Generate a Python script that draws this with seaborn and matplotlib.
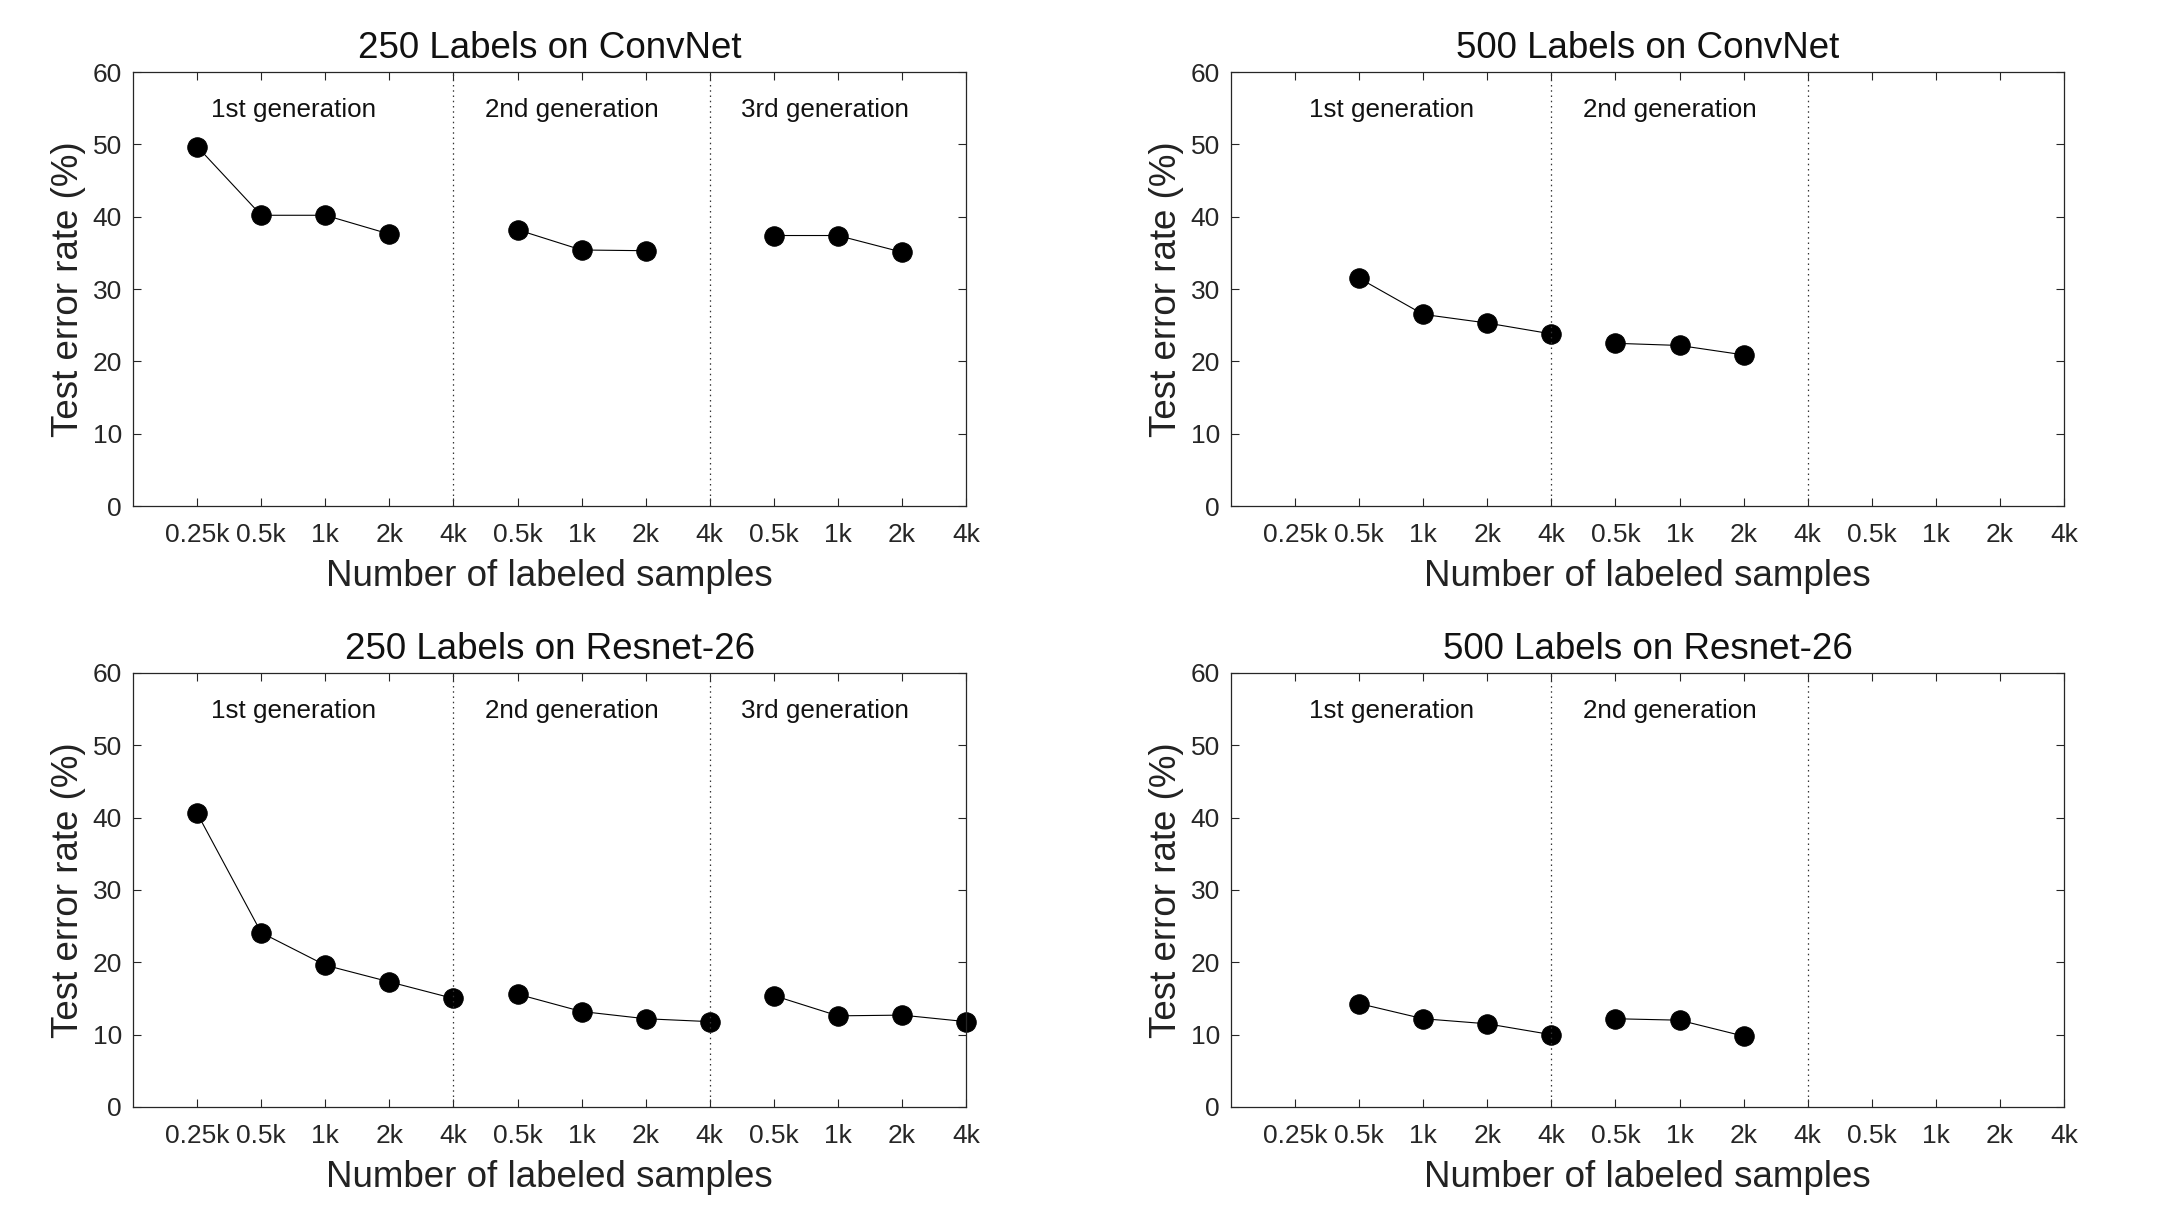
import numpy as np
import pandas as pd
import matplotlib
matplotlib.use("Agg")
import matplotlib.pyplot as plt
import seaborn as sns

# ---- data ----
x_tick_labels = ["0.25k", "0.5k", "1k", "2k", "4k", "0.5k", "1k", "2k", "4k",
                 "0.5k", "1k", "2k", "4k"]
y_ticks = [0, 10, 20, 30, 40, 50, 60]
gen_labels = ["1st generation", "2nd generation", "3rd generation"]
titles = ["250 Labels on ConvNet", "500 Labels on ConvNet",
          "250 Labels on Resnet-26", "500 Labels on Resnet-26"]

# each series: (index of first tick label, values)
conv250_gen1 = [49.7, 40.2, 40.2, 37.6]
conv250_gen2 = [38.2, 35.4, 35.3]
conv250_gen3 = [37.4, 37.4, 35.1]

conv500_gen1 = [31.5, 26.5, 25.3, 23.8]
conv500_gen2 = [22.5, 22.2, 20.9]

res250_gen1 = [40.6, 24.1, 19.6, 17.3, 15.0]
res250_gen2 = [15.6, 13.2, 12.2, 11.8]
res250_gen3 = [15.4, 12.6, 12.7, 11.8]

res500_gen1 = [14.3, 12.2, 11.5, 10.0]
res500_gen2 = [12.2, 12.0, 9.8]

panels = [
    (titles[0], [(0, conv250_gen1), (5, conv250_gen2), (9, conv250_gen3)], 3),
    (titles[1], [(1, conv500_gen1), (5, conv500_gen2)], 2),
    (titles[2], [(0, res250_gen1), (5, res250_gen2), (9, res250_gen3)], 3),
    (titles[3], [(1, res500_gen1), (5, res500_gen2)], 2),
]

sns.set_theme(style="white")
plt.rcParams["font.family"] = ["Liberation Sans", "DejaVu Sans"]
plt.rcParams["axes.edgecolor"] = "#262626"
plt.rcParams["axes.linewidth"] = 0.9

fig = plt.figure(figsize=(21.71, 12.15), dpi=100)
W, H = 0.3837, 0.3572
positions = [
    [0.0613, 0.5835, W, H],
    [0.5670, 0.5835, W, H],
    [0.0613, 0.0889, W, H],
    [0.5670, 0.0889, W, H],
]
gen_x = [2.5, 6.85, 10.8]

for pos, (title, series, ngen) in zip(positions, panels):
    ax = fig.add_axes(pos)
    for start, vals in series:
        xs = np.arange(start, start + len(vals)) + 1
        df = pd.DataFrame({"x": xs, "y": vals})
        sns.lineplot(data=df, x="x", y="y", ax=ax, color="black", linewidth=0.8,
                     marker="o", markersize=14, markeredgecolor="black",
                     markerfacecolor="black", clip_on=False)
    for xv in [5, 9]:
        ax.axvline(xv, color="#333333", linestyle=(0, (1.2, 3)), linewidth=0.9)
    for gx, gl in zip(gen_x, gen_labels[:ngen]):
        ax.text(gx, 54.8, gl, fontsize=18.7, ha="center", va="center", color="#111111")
    ax.set_xlim(0, 13)
    ax.set_ylim(0, 60)
    ax.set_xticks(np.arange(1, len(x_tick_labels) + 1))
    ax.set_xticklabels(x_tick_labels)
    ax.set_yticks(y_ticks)
    ax.tick_params(axis="both", which="both", direction="in", length=6, width=0.8,
                   top=True, right=True, bottom=True, left=True,
                   labelsize=19, colors="#262626", pad=8)
    ax.tick_params(axis="x", pad=12)
    for sp in ax.spines.values():
        sp.set_visible(True)
    ax.set_title(title, fontsize=26.5, pad=10, color="#111111")
    ax.set_xlabel("Number of labeled samples", fontsize=26.5, labelpad=9, color="#222222")
    ax.set_ylabel("Test error rate (%)", fontsize=26.5, labelpad=5, color="#222222")

fig.savefig("out.png", dpi=100, facecolor="white")
